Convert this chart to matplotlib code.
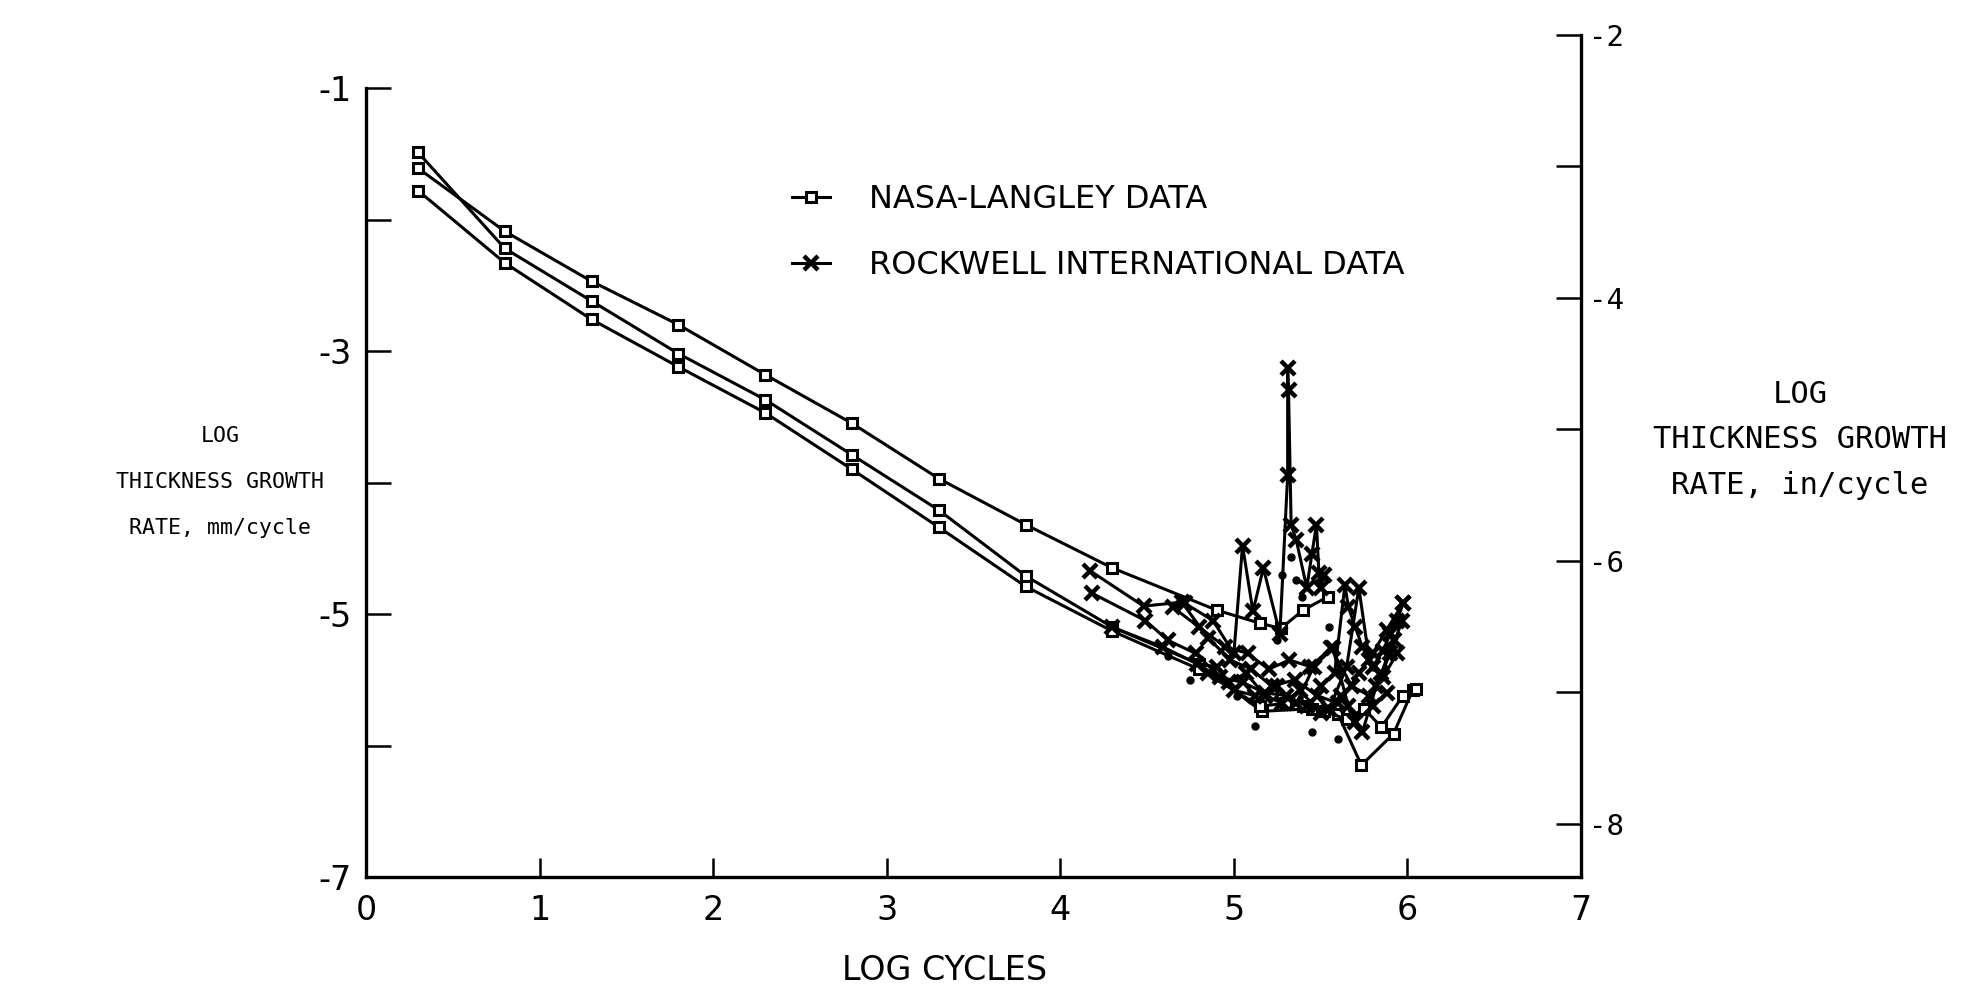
import numpy as np
from matplotlib import pyplot as plt
from matplotlib import font_manager

#%% fonts
names = {f.name for f in font_manager.fontManager.ttflist}
narrow = 'Liberation Sans Narrow' if 'Liberation Sans Narrow' in names else 'DejaVu Sans'
mono = 'DejaVu Sans Mono'

#%% data (log mm/cycle vs log cycles)
nasa1_x = [0.3, 0.8, 1.3, 1.8, 2.3, 2.8, 3.3, 3.8, 4.3, 4.9, 5.15, 5.27, 5.40, 5.54]
nasa1_y = [-1.61, -2.09, -2.47, -2.80, -3.18, -3.55, -3.97, -4.32, -4.65, -4.97, -5.07, -5.11, -4.97, -4.87]

nasa2_x = [0.3, 0.8, 1.3, 1.8, 2.3, 2.8, 3.3, 3.8, 4.3, 4.8, 5.16, 5.45, 5.60, 5.735, 5.92, 6.03]
nasa2_y = [-1.49, -2.22, -2.62, -3.02, -3.37, -3.79, -4.21, -4.71, -5.10, -5.38, -5.74, -5.72, -5.76, -6.15, -5.91, -5.58]

nasa3_x = [0.3, 0.8, 1.3, 1.8, 2.3, 2.8, 3.3, 3.8, 4.3, 4.8, 5.15, 5.30, 5.40, 5.52, 5.65, 5.75, 5.85, 5.975, 6.05]
nasa3_y = [-1.78, -2.33, -2.76, -3.12, -3.47, -3.90, -4.34, -4.79, -5.13, -5.42, -5.70, -5.68, -5.70, -5.74, -5.80, -5.72, -5.86, -5.62, -5.57]

rock1_x = [4.17, 4.48, 4.70, 4.85, 4.98, 5.10, 5.22, 5.35, 5.48, 5.60, 5.72, 5.80, 5.88, 5.975]
rock1_y = [-4.67, -4.94, -4.91, -5.18, -5.35, -5.42, -5.55, -5.50, -5.62, -5.68, -5.45, -5.30, -5.12, -4.92]

rock2_x = [4.18, 4.49, 4.62, 4.78, 4.92, 5.05, 5.18, 5.30, 5.42, 5.55, 5.65, 5.72, 5.78, 5.85, 5.92]
rock2_y = [-4.84, -5.05, -5.20, -5.30, -5.48, -5.52, -5.60, -5.62, -5.70, -5.72, -5.40, -4.80, -5.35, -5.45, -5.20]

rock3_x = [4.30, 4.59, 4.79, 4.90, 5.00, 5.12, 5.25, 5.36, 5.46, 5.57, 5.66, 5.74, 5.82, 5.90, 5.97]
rock3_y = [-5.10, -5.25, -5.38, -5.40, -5.58, -5.62, -5.55, -5.68, -5.40, -5.26, -5.70, -5.90, -5.55, -5.30, -5.05]

rock4_x = [4.72, 4.88, 5.00, 5.05, 5.11, 5.17, 5.265, 5.31, 5.31, 5.315, 5.33, 5.36, 5.42, 5.45, 5.476, 5.49, 5.50, 5.52]
rock4_y = [-4.92, -5.05, -5.30, -4.48, -4.98, -4.65, -5.15, -3.94, -3.13, -3.30, -4.32, -4.44, -4.80, -4.54, -4.32, -4.69, -4.80, -4.70]

rock5_x = [5.50, 5.58, 5.64, 5.66, 5.70, 5.74, 5.80, 5.86, 5.90, 5.94, 5.975]
rock5_y = [-5.55, -5.45, -4.78, -4.95, -5.10, -5.25, -5.40, -5.28, -5.15, -5.05, -4.92]

rock6_x = [4.65, 4.80, 4.95, 5.08, 5.20, 5.32, 5.44, 5.56, 5.68, 5.78, 5.86, 5.94]
rock6_y = [-4.95, -5.10, -5.25, -5.30, -5.42, -5.35, -5.40, -5.26, -5.55, -5.62, -5.48, -5.30]

rock7_x = [4.85, 4.97, 5.07, 5.18, 5.28, 5.38, 5.50, 5.62, 5.70, 5.80, 5.88]
rock7_y = [-5.45, -5.52, -5.45, -5.62, -5.68, -5.58, -5.75, -5.62, -5.82, -5.70, -5.60]

dots_x = [5.02, 5.33, 5.36, 5.39, 5.25, 4.62, 4.75, 5.12, 5.45, 5.60, 5.70, 5.80, 5.55, 5.28]
dots_y = [-5.62, -4.57, -4.74, -4.87, -5.20, -5.32, -5.50, -5.85, -5.90, -5.95, -5.78, -5.40, -5.10, -4.70]

mm_to_in = np.log10(25.4)

#%% plot
W, H = 1970, 989
fig = plt.figure(figsize=(W/100, H/100), dpi=100)
ax = fig.add_axes([366/W, 1 - 877/H, 1215/W, (877 - 34.8)/H])

sq = dict(color='k', lw=2.2, marker='s', ms=7.5, mfc='white', mec='k', mew=2.2)
xx = dict(color='k', lw=2.2, marker='x', ms=10, mew=3.2)

for xs, ys in [(nasa1_x, nasa1_y), (nasa2_x, nasa2_y), (nasa3_x, nasa3_y)]:
    ax.plot(xs, ys, zorder=3, **sq)
for xs, ys in [(rock1_x, rock1_y), (rock2_x, rock2_y), (rock3_x, rock3_y),
               (rock4_x, rock4_y), (rock5_x, rock5_y), (rock6_x, rock6_y), (rock7_x, rock7_y)]:
    ax.plot(xs, ys, zorder=4, **xx)
ax.plot(dots_x, dots_y, 'o', color='k', ms=5, zorder=4)

ax.set_xlim(0, 7)
ax.set_ylim(-7, -2 + mm_to_in)

ax.spines['top'].set_visible(False)
ax.spines['right'].set_visible(False)
ax.spines['left'].set_bounds(-7, -1)
for s in ['left', 'bottom']:
    ax.spines[s].set_linewidth(2.4)

ax.set_xticks(range(0, 8))
ax.set_xticklabels([str(i) for i in range(0, 8)], family=narrow, fontsize=24)
ax.set_yticks(range(-7, 0))
ax.set_yticklabels([str(v) if v % 2 else '' for v in range(-7, 0)], family=narrow, fontsize=24)
ax.tick_params(axis='y', direction='in', length=18, width=1.8, pad=10)
ax.tick_params(axis='x', direction='in', length=14, width=1.8, pad=12)

# right axis in in/cycle
ax2 = ax.twinx()
ax2.set_ylim(-7 - mm_to_in, -2)
for s in ['left', 'top', 'bottom']:
    ax2.spines[s].set_visible(False)
ax2.spines['right'].set_linewidth(2.4)
ax2.set_yticks(range(-8, -1))
ax2.set_yticklabels([str(v) if v % 2 == 0 else '' for v in range(-8, -1)], family=mono, fontsize=21)
ax2.tick_params(axis='y', direction='in', length=18, width=1.8, pad=6)

# legend
h1, = ax.plot([], [], **sq)
h2, = ax.plot([], [], **xx)
ax.legend([h1, h2], ['NASA-LANGLEY DATA', 'ROCKWELL INTERNATIONAL DATA'],
          loc='upper left', bbox_to_anchor=((792 - 366)/1215, (877 - 184)/842.2),
          frameon=False, handlelength=1.2, handletextpad=1.2, labelspacing=1.1,
          borderpad=0, borderaxespad=0, prop={'family': narrow, 'size': 23})

# axis labels
fig.text(220/W, 1 - 482/H, 'LOG\nTHICKNESS GROWTH\nRATE, mm/cycle', family=mono, fontsize=15.5,
         ha='center', va='center', linespacing=2.6)
fig.text(1800/W, 1 - 440/H, 'LOG\nTHICKNESS GROWTH\nRATE, in/cycle', family=mono, fontsize=22,
         ha='center', va='center', linespacing=1.7)
fig.text(945/W, 1 - 970/H, 'LOG CYCLES', family=narrow, fontsize=24, ha='center', va='center')

fig.savefig('out.png', dpi=100)
